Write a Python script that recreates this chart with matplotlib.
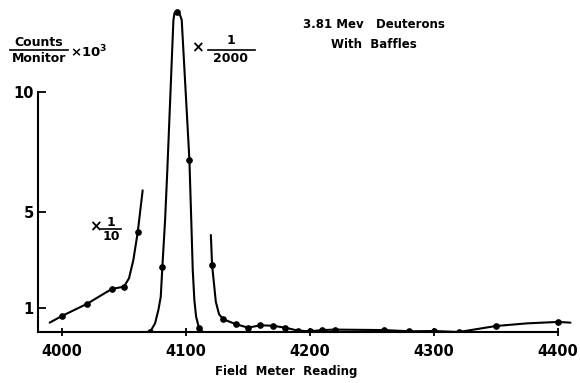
import matplotlib.pyplot as plt
from matplotlib.lines import Line2D

# low-field shoulder (x 1/10)
left_x = [4000, 4020, 4040, 4050, 4061]
left_y = [0.67, 1.17, 1.79, 1.89, 4.15]
left_line_x = [3990, 4000, 4020, 4040, 4050, 4054, 4057.5, 4061, 4065]
left_line_y = [0.39, 0.67, 1.17, 1.79, 1.89, 2.24, 3.0, 4.15, 5.9]

# main peak (x 1/2000)
peak_x = [4071, 4081, 4092.5, 4102.7, 4110.5]
peak_y = [0.0, 2.72, 13.35, 7.17, 0.15]
peak_line_x = [4063, 4071, 4075, 4077.7, 4079.6, 4080.9, 4083.1, 4084.9, 4089.8,
               4090.7, 4092.5, 4094.4, 4096.5, 4102.7, 4104.6, 4105.4, 4106.7,
               4108.1, 4110.5, 4113.7]
peak_line_y = [0.0, 0.0, 0.36, 0.92, 1.47, 2.72, 4.67, 6.75, 13.0,
               13.29, 13.35, 13.31, 13.0, 7.17, 3.97, 2.58, 1.33,
               0.64, 0.15, 0.0]

# high-field tail
right_x = [4121, 4130, 4140, 4150, 4160, 4170, 4180, 4190, 4200, 4210, 4220,
           4260, 4280, 4300, 4320, 4350, 4400]
right_y = [2.79, 0.53, 0.33, 0.18, 0.28, 0.26, 0.18, 0.06, 0.03, 0.08, 0.10,
           0.08, 0.03, 0.04, 0.0, 0.25, 0.42]
right_line_x = [4120, 4121, 4124, 4126.6, 4130, 4140, 4150, 4160, 4170, 4180,
                4190, 4200, 4210, 4220, 4260, 4280, 4300, 4320, 4350, 4375,
                4400, 4410]
right_line_y = [4.04, 2.79, 1.26, 0.74, 0.53, 0.33, 0.18, 0.28, 0.26, 0.18,
                0.06, 0.03, 0.08, 0.10, 0.08, 0.03, 0.04, 0.0, 0.25, 0.36,
                0.42, 0.39]

xticks = [4000, 4100, 4200, 4300, 4400]
yticks = [1, 5, 10]

W, H = 580, 383


def px(x, y):
    return x / W, 1 - y / H


plt.rcParams['font.family'] = 'DejaVu Sans'
plt.rcParams['font.weight'] = 'bold'

fig = plt.figure(figsize=(5.8, 3.83), dpi=100)
ax = fig.add_axes([38 / W, 51 / H, 1 - 38 / W, 332 / H])

for lx, ly, mx, my in [(left_line_x, left_line_y, left_x, left_y),
                       (peak_line_x, peak_line_y, peak_x, peak_y),
                       (right_line_x, right_line_y, right_x, right_y)]:
    ax.plot(lx, ly, color='black', lw=1.5, solid_capstyle='round')
    ax.plot(mx, my, 'o', color='black', ms=3.8)

ax.set_xlim(3980.6, 4417.7)
ax.set_ylim(0, 13.83)
ax.spines['top'].set_visible(False)
ax.spines['right'].set_visible(False)
ax.spines['bottom'].set_bounds(3980.6, 4400)
ax.spines['left'].set_bounds(0, 10)
ax.spines['bottom'].set_linewidth(1.5)
ax.spines['left'].set_linewidth(1.5)

ax.set_xticks(xticks)
ax.set_xticklabels([str(t) for t in xticks])
ax.set_yticks(yticks)
ax.set_yticklabels([str(t) for t in yticks])
ax.tick_params(axis='x', direction='inout', length=6, width=1.3, pad=6, labelsize=10.5)
ax.tick_params(axis='y', direction='in', length=6, width=1.3, pad=3, labelsize=10.5)

# axis labels
fig.text(*px(286, 372), 'Field  Meter  Reading', ha='center', va='center', fontsize=8.5)
fig.text(*px(39, 43), 'Counts', ha='center', va='center', fontsize=9)
fig.text(*px(39, 58), 'Monitor', ha='center', va='center', fontsize=9)
fig.add_artist(Line2D([10 / W, 68 / W], [1 - 50 / H] * 2, color='black', lw=1.2))
fig.text(*px(70, 52), '×10$^3$', ha='left', va='center', fontsize=9.5)

# scale factors
fig.text(*px(95, 227), '×', ha='center', va='center', fontsize=11)
fig.text(*px(111, 222), '1', ha='center', va='center', fontsize=9)
fig.add_artist(Line2D([101 / W, 121 / W], [1 - 229 / H] * 2, color='black', lw=1.2))
fig.text(*px(111, 237), '10', ha='center', va='center', fontsize=9)

fig.text(*px(197, 48), '×', ha='center', va='center', fontsize=11)
fig.text(*px(231, 41), '1', ha='center', va='center', fontsize=9)
fig.add_artist(Line2D([208 / W, 255 / W], [1 - 50 / H] * 2, color='black', lw=1.2))
fig.text(*px(231, 58), '2000', ha='center', va='center', fontsize=9)

# title block
fig.text(*px(374, 24), '3.81 Mev   Deuterons', ha='center', va='center', fontsize=8.5)
fig.text(*px(374, 44), 'With  Baffles', ha='center', va='center', fontsize=8.5)

fig.savefig('out.png', dpi=100)
